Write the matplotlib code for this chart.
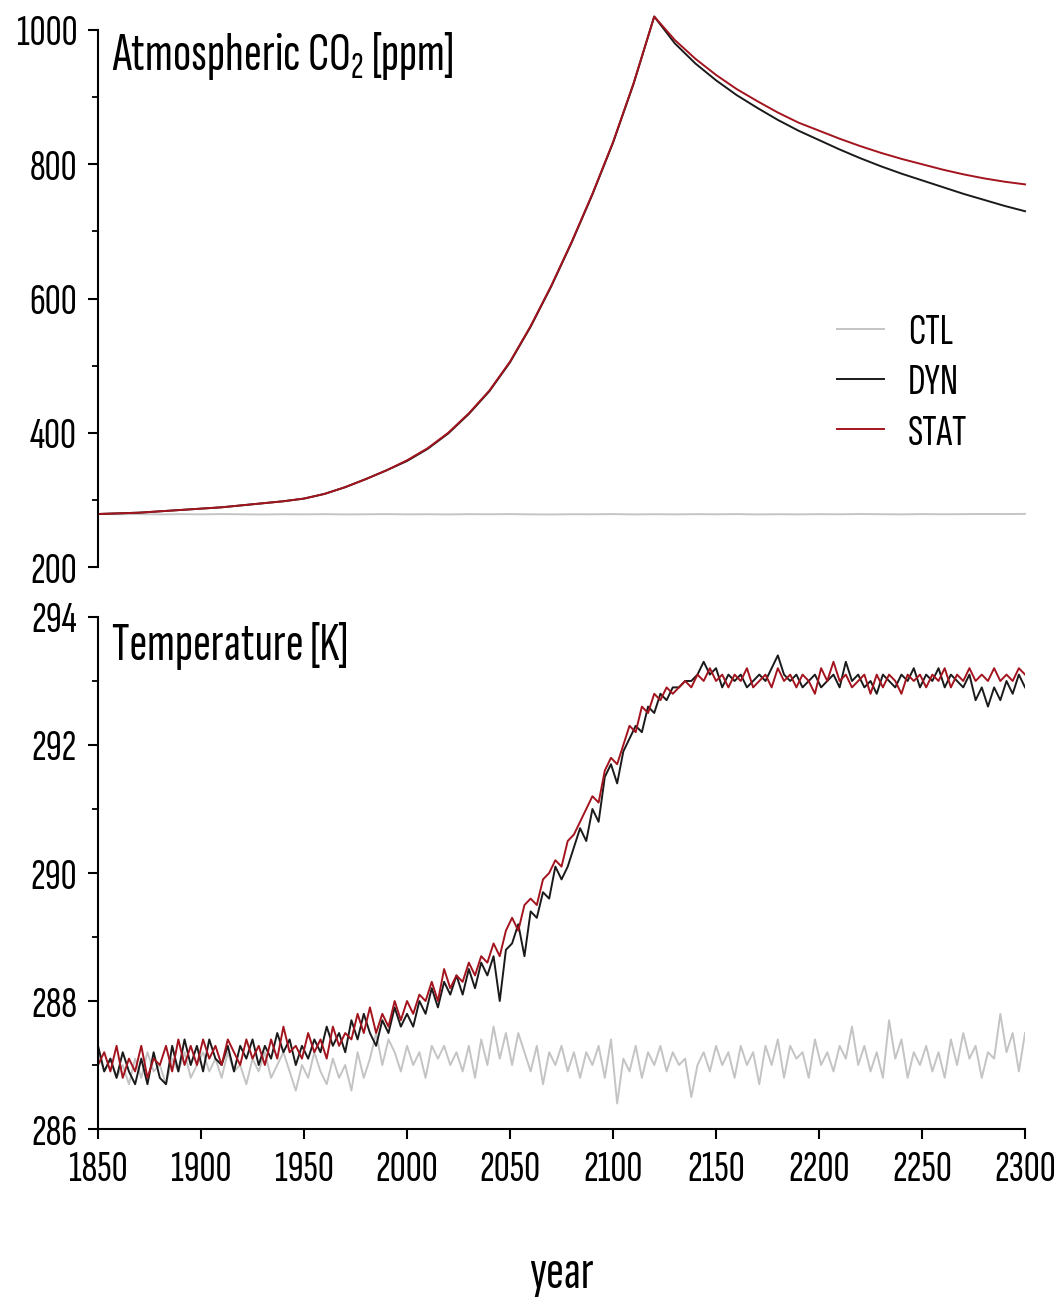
import numpy as np
import matplotlib
matplotlib.use('Agg')
import matplotlib.pyplot as plt
from matplotlib.ticker import MultipleLocator

plt.rcParams['font.family'] = ['Sofia Sans Extra Condensed', 'Roboto Condensed', 'DejaVu Sans']
plt.rcParams['mathtext.default'] = 'regular'

# CO2 every 10 years, 1850-2300
co2_years = np.arange(1850, 2301, 10)
co2_ctl = [279.0, 278.6, 278.9, 278.4, 278.8, 278.5, 278.9, 278.6, 278.3, 278.7,
           278.5, 278.8, 278.4, 278.6, 278.9, 278.5, 278.7, 278.4, 278.8, 278.6,
           278.9, 278.5, 278.3, 278.7, 278.6, 278.9, 278.4, 278.7, 278.5, 278.8,
           278.6, 278.9, 278.4, 278.7, 278.5, 278.8, 278.6, 279.0, 278.7, 278.5,
           278.9, 278.6, 278.8, 279.1, 278.9, 279.2]
co2_dyn = [279, 280, 281, 283, 285, 287, 289, 292, 295, 298,
           302, 309, 319, 331, 344, 358, 376, 399, 428, 462,
           505, 558, 618, 684, 755, 832, 920, 1020,
           980, 950, 925, 903, 884, 866, 850, 836, 822, 809,
           797, 786, 776, 766, 756, 747, 738, 730]
co2_stat = [279, 280, 281, 283, 285, 287, 289, 292, 295, 298,
            302, 309, 319, 331, 344, 359, 377, 400, 429, 463,
            506, 559, 619, 685, 756, 833, 921, 1020,
            985, 957, 933, 912, 894, 877, 862, 850, 838, 827,
            817, 808, 800, 792, 785, 779, 774, 770]

# temperature every 3 years, 1850-2300
t_years = np.arange(1850, 2301, 3)
t_ctl = [287.2, 286.9, 287.1, 286.8, 287.0, 286.7, 287.1, 286.8, 287.2, 286.9,
         287.0, 286.7, 287.1, 286.9, 287.2, 286.8, 287.0, 287.2, 286.9, 287.1,
         286.8, 287.2, 286.9, 287.0, 286.7, 287.1, 286.9, 287.2, 286.8, 287.0,
         287.2, 286.9, 286.6, 287.0, 286.8, 287.2, 286.9, 286.7, 287.1, 286.8,
         287.0, 286.6, 287.2, 286.8, 287.1, 287.5, 287.0, 287.4, 287.2, 286.9,
         287.3, 287.0, 287.2, 286.8, 287.3, 287.1, 287.3, 287.0, 287.2, 286.9,
         287.3, 286.8, 287.4, 287.0, 287.6, 287.1, 287.5, 287.0, 287.5, 287.2,
         286.9, 287.3, 286.7, 287.2, 287.0, 287.3, 286.9, 287.2, 286.8, 287.2,
         287.0, 287.3, 286.8, 287.4, 286.4, 287.1, 286.9, 287.3, 286.8, 287.2,
         287.0, 287.3, 286.9, 287.2, 287.0, 287.1, 286.5, 287.0, 287.2, 286.9,
         287.3, 287.0, 287.2, 286.8, 287.3, 287.0, 287.2, 286.7, 287.3, 287.0,
         287.4, 286.8, 287.3, 287.1, 287.2, 286.8, 287.4, 287.0, 287.2, 286.9,
         287.3, 287.1, 287.6, 287.0, 287.3, 286.9, 287.2, 286.8, 287.7, 287.1,
         287.4, 286.8, 287.2, 287.0, 287.3, 286.9, 287.2, 286.8, 287.4, 287.0,
         287.5, 287.1, 287.3, 286.8, 287.2, 287.1, 287.8, 287.2, 287.5, 286.9,
         287.5]
t_dyn = [287.3, 286.9, 287.1, 286.8, 287.2, 286.9, 286.7, 287.1, 286.7, 287.2,
         286.8, 286.7, 287.3, 286.9, 287.4, 287.0, 287.3, 286.9, 287.4, 287.1,
         287.0, 287.3, 286.9, 287.3, 287.1, 287.4, 287.0, 287.3, 287.1, 287.5,
         287.2, 287.4, 287.0, 287.3, 287.1, 287.4, 287.2, 287.6, 287.3, 287.5,
         287.2, 287.7, 287.4, 287.8, 287.5, 287.3, 287.7, 287.5, 287.9, 287.6,
         287.8, 287.6, 288.0, 287.8, 288.2, 287.9, 288.3, 288.1, 288.4, 288.1,
         288.5, 288.2, 288.6, 288.4, 288.7, 288.0, 288.8, 288.9, 289.2, 288.7,
         289.4, 289.3, 289.7, 289.6, 290.1, 289.9, 290.1, 290.4, 290.7, 290.5,
         291.0, 290.8, 291.5, 291.7, 291.4, 291.9, 292.1, 292.3, 292.2, 292.6,
         292.5, 292.8, 292.7, 292.9, 292.9, 293.0, 293.0, 293.1, 293.3, 293.1,
         293.2, 292.9, 293.1, 293.0, 293.1, 292.9, 293.0, 293.1, 293.0, 293.2,
         293.4, 293.1, 293.0, 293.1, 292.9, 293.0, 293.1, 292.9, 293.0, 293.1,
         292.9, 293.3, 293.0, 293.1, 292.9, 293.0, 292.8, 293.1, 293.0, 292.9,
         293.1, 293.0, 293.2, 292.9, 293.1, 293.0, 293.2, 292.9, 293.1, 293.0,
         292.9, 293.1, 292.7, 292.9, 292.6, 292.9, 292.7, 293.0, 292.8, 293.1,
         292.9]
t_stat = [287.0, 287.2, 286.9, 287.3, 286.8, 287.1, 286.9, 287.3, 286.8, 287.1,
          287.0, 287.3, 286.9, 287.4, 287.0, 287.3, 287.0, 287.4, 287.1, 287.3,
          287.0, 287.4, 287.2, 287.0, 287.4, 287.1, 287.3, 287.0, 287.4, 287.1,
          287.6, 287.2, 287.3, 287.1, 287.5, 287.2, 287.4, 287.1, 287.6, 287.3,
          287.5, 287.4, 287.8, 287.5, 287.9, 287.5, 287.8, 287.6, 288.0, 287.7,
          288.0, 287.8, 288.1, 288.0, 288.3, 288.0, 288.5, 288.2, 288.4, 288.3,
          288.6, 288.4, 288.7, 288.6, 288.9, 288.7, 289.1, 289.3, 289.1, 289.5,
          289.6, 289.5, 289.9, 290.0, 290.2, 290.1, 290.5, 290.6, 290.8, 291.0,
          291.2, 291.1, 291.6, 291.8, 291.7, 292.0, 292.3, 292.2, 292.6, 292.5,
          292.8, 292.7, 292.9, 292.8, 292.9, 293.0, 292.9, 293.1, 293.0, 293.2,
          293.0, 293.1, 292.9, 293.1, 293.0, 293.2, 292.9, 293.0, 293.1, 292.9,
          293.2, 293.0, 293.1, 292.9, 293.1, 293.0, 292.8, 293.2, 293.0, 293.3,
          293.0, 293.1, 292.9, 293.0, 293.1, 292.8, 293.1, 292.9, 293.1, 293.0,
          292.8, 293.1, 293.0, 293.1, 292.9, 293.1, 293.0, 293.2, 292.9, 293.1,
          293.0, 293.2, 293.0, 293.1, 293.0, 293.2, 293.0, 293.1, 293.0, 293.2,
          293.1]

labels = ['CTL', 'DYN', 'STAT']
colors = ['#c4c4c4', '#1a1a1a', '#a3141e']

FS = 32      # tick labels, legend
FS_BIG = 39  # panel titles, axis label

fig = plt.figure(figsize=(10.62, 12.97), dpi=100)
ax1 = fig.add_axes([0.0923, 0.5628, 0.8729, 0.4141])
ax2 = fig.add_axes([0.0923, 0.1295, 0.8729, 0.3948])

for ax in (ax1, ax2):
    ax.set_xlim(1850, 2300)
    for s in ('top', 'right'):
        ax.spines[s].set_visible(False)
    ax.spines['left'].set_linewidth(1.5)
    ax.spines['bottom'].set_linewidth(1.5)
    ax.tick_params(axis='both', which='major', length=7, width=1.5,
                   labelsize=FS, pad=8)
    ax.tick_params(axis='y', which='minor', length=4, width=1.3)

# top: CO2
for y, lab, c in zip([co2_ctl, co2_dyn, co2_stat], labels, colors):
    ax1.plot(co2_years, y, color=c, lw=1.4, label=lab, clip_on=False)
ax1.set_ylim(200, 1000)
ax1.yaxis.set_major_locator(MultipleLocator(200))
ax1.yaxis.set_minor_locator(MultipleLocator(100))
ax1.spines['bottom'].set_visible(False)
ax1.tick_params(axis='x', which='both', bottom=False, labelbottom=False)
ax1.text(0.015, 1.0, 'Atmospheric CO$_2$ [ppm]', transform=ax1.transAxes,
         fontsize=FS_BIG, va='top', ha='left')
ax1.legend(loc='center left', bbox_to_anchor=(0.797, 0.343), frameon=False,
           fontsize=FS, handlelength=1.05, handletextpad=0.55,
           labelspacing=0.25, borderpad=0, borderaxespad=0)

# bottom: temperature
for y, lab, c in zip([t_ctl, t_dyn, t_stat], labels, colors):
    ax2.plot(t_years, y, color=c, lw=1.4)
ax2.set_ylim(286, 294)
ax2.yaxis.set_major_locator(MultipleLocator(2))
ax2.yaxis.set_minor_locator(MultipleLocator(1))
ax2.xaxis.set_major_locator(MultipleLocator(50))
ax2.text(0.015, 0.99, 'Temperature [K]', transform=ax2.transAxes,
         fontsize=FS_BIG, va='top', ha='left')
ax2.set_xlabel('year', fontsize=FS_BIG, labelpad=45)

fig.savefig('out.png', dpi=100)
